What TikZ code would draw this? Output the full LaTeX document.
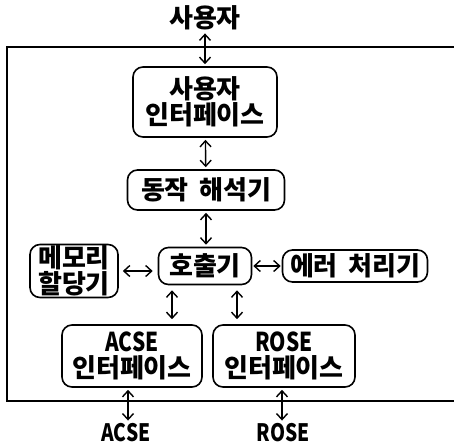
\documentclass[tikz,border=0pt]{standalone}
\usepackage{fontspec}
\setmainfont{Noto Sans CJK KR}
\newfontfamily\narrowlat{Noto Sans CJK KR}[FakeStretch=0.8]
\usetikzlibrary{arrows.meta}

\begin{document}
\begin{tikzpicture}[x=1pt,y=-1pt,
    every node/.style={font=\fontsize{26}{26}\selectfont\bfseries,inner sep=1pt},
    box/.style={draw,line width=1.6pt,rounded corners=10pt,inner sep=0pt,align=center},
    link/.style={{Straight Barb[length=6pt,width=11pt]}-{Straight Barb[length=6pt,width=11pt]},line width=1.4pt,shorten <=2pt,shorten >=2pt}]
    \useasboundingbox (0,0) rectangle (454,445);
    \draw[line width=1.6pt] (454,47) -- (7,47) -- (7,401) -- (454,401);

    \node (user) at (205,18) {사용자};
    \node[box,minimum width=144pt,minimum height=70pt] (ui) at (205,102) {사용자\\인터페이스};
    \node[box,minimum width=157pt,minimum height=40pt] (parser) at (206,190) {동작\hspace{.4em}해석기};
    \node[box,minimum width=88pt,minimum height=53pt] (mem) at (74,271) {메모리\\할당기};
    \node[box,minimum width=93pt,minimum height=37pt] (caller) at (205,266) {호출기};
    \node[box,minimum width=145pt,minimum height=32pt] (err) at (355,266) {에러\hspace{.4em}처리기};
    \node[box,minimum width=140pt,minimum height=62pt] (acse) at (132,356) {{\narrowlat ACSE}\\인터페이스};
    \node[box,minimum width=142pt,minimum height=62pt] (rose) at (284,356) {{\narrowlat ROSE}\\인터페이스};
    \node[font=\fontsize{24}{24}\selectfont\bfseries\narrowlat] (acsel) at (126,433) {ACSE};
    \node[font=\fontsize{24}{24}\selectfont\bfseries\narrowlat] (rosel) at (283,433) {ROSE};

    \draw[link] (user) -- (ui);
    \draw[link] (ui) -- (parser);
    \draw[link] (parser) -- (parser |- caller.north);
    \draw[link,shorten <=4pt,shorten >=5pt] (mem.east) -- (mem.east -| caller.west);
    \draw[link,shorten <=1pt,shorten >=1pt] (caller) -- (err);
    \draw[link,shorten <=5pt,shorten >=5pt] ([xshift=-33pt]caller.south) -- ([xshift=-33pt]caller.south |- acse.north);
    \draw[link,shorten <=5pt,shorten >=5pt] ([xshift=32pt]caller.south) -- ([xshift=32pt]caller.south |- rose.north);
    \draw[link] ([xshift=-4pt]acse.south) -- ([xshift=-4pt]acse.south |- acsel.north);
    \draw[link] ([xshift=-2pt]rose.south) -- ([xshift=-2pt]rose.south |- rosel.north);
\end{tikzpicture}
\end{document}
